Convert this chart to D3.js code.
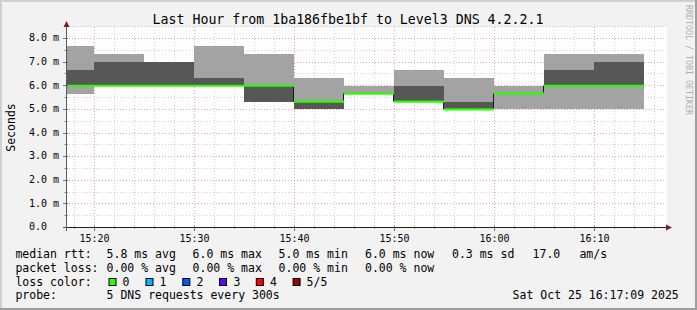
<!DOCTYPE html>
<html><head><meta charset="utf-8">
<script src="https://cdn.jsdelivr.net/npm/d3@7"></script>
<style>
html,body{margin:0;padding:0;background:#f2f2f2;}
svg{display:block;}
text{font-family:"DejaVu Sans Mono",monospace;fill:#000;}
</style>
</head><body>
<svg id="c" width="697" height="310"></svg>
<script>
// ---- data ----
const intervalStart = ["15:15","15:20","15:25","15:30","15:35","15:40","15:45","15:50","15:55","16:00","16:05","16:10"];
const pingMin = [5.67, 6.0, 6.0, 6.0, 5.33, 5.0, 5.67, 5.33, 5.0, 5.0, 5.0, 5.0];
const ping2   = [6.0, 6.0, 6.0, 6.0, 5.33, 5.0, 5.67, 5.33, 5.0, 5.67, 6.0, 6.0];
const median  = [6.0, 6.0, 6.0, 6.0, 6.0, 5.33, 5.67, 5.33, 5.0, 5.67, 6.0, 6.0];
const ping4   = [6.67, 7.0, 7.0, 6.33, 6.0, 5.33, 5.67, 6.0, 5.33, 5.67, 6.67, 7.0];
const pingMax = [7.67, 7.33, 7.0, 7.67, 7.33, 6.33, 6.0, 6.67, 6.33, 6.0, 7.33, 7.33];
const intervalMinutes = 5;
const windowStart = "15:17:12";
const windowEnd = "16:17:12";
const yTickValues = [0,1,2,3,4,5,6,7,8];
const yTickLabels = ["0.0","1.0 m","2.0 m","3.0 m","4.0 m","5.0 m","6.0 m","7.0 m","8.0 m"];
const xTickLabels = ["15:20","15:30","15:40","15:50","16:00","16:10"];
const titleText = "Last Hour from 1ba186fbe1bf to Level3 DNS 4.2.2.1";
const yAxisTitle = "Seconds";
const rttLabel = "median rtt:";
const rttStats = ["5.8 ms avg","6.0 ms max","5.0 ms min","6.0 ms now","0.3 ms sd","17.0","am/s"];
const lossLabel = "packet loss:";
const lossStats = ["0.00 % avg","0.00 % max","0.00 % min","0.00 % now"];
const lossColorLabel = "loss color:";
const lossLabels = ["0","1","2","3","4","5/5"];
const lossColors = ["#26ff00","#00b8ff","#0059ff","#5e00ff","#ff0000","#a00000"];
const probeLabel = "probe:";
const probeText = "5 DNS requests every 300s";
const dateText = "Sat Oct 25 16:17:09 2025";
const watermark = "RRDTOOL / TOBI OETIKER";

// ---- setup ----
const svg = d3.select("#c");
const W = 697, H = 310;
const parseT = d3.timeParse("%Y-%m-%d %H:%M:%S");
const day = "2025-10-25 ";
const tOf = s => parseT(day + (s.length === 5 ? s + ":00" : s));

const plot = {left: 66, right: 666, top: 27, bottom: 228};
const x = d3.scaleTime().domain([tOf(windowStart), tOf(windowEnd)]).range([plot.left, plot.right]);
const y = d3.scaleLinear().domain([0, 8]).range([227.5, 38.5]);

// background & 3D frame
svg.append("rect").attr("width", W).attr("height", H).attr("fill", "#f2f2f2");
svg.append("rect").attr("x",0).attr("y",0).attr("width",W).attr("height",2).attr("fill","#cfcfcf");
svg.append("rect").attr("x",0).attr("y",0).attr("width",2).attr("height",H).attr("fill","#cfcfcf");
svg.append("rect").attr("x",0).attr("y",H-2).attr("width",W).attr("height",2).attr("fill","#9e9e9e");
svg.append("rect").attr("x",W-2).attr("y",0).attr("width",2).attr("height",H).attr("fill","#9e9e9e");

// canvas
svg.append("rect").attr("x", plot.left).attr("y", plot.top)
  .attr("width", plot.right - plot.left + 1).attr("height", plot.bottom - plot.top).attr("fill", "#fff");

svg.append("defs").append("clipPath").attr("id","clip")
  .append("rect").attr("x", plot.left).attr("y", plot.top)
  .attr("width", plot.right - plot.left).attr("height", plot.bottom - plot.top);

// grid
const gGrid = svg.append("g");
const minorX = d3.timeMinute.every(2).range(tOf(windowStart), tOf(windowEnd));
const majorX = xTickLabels.map(tOf);
const isMajorX = t => majorX.some(m => +m === +t);
minorX.filter(t => !isMajorX(t)).forEach(t => {
  gGrid.append("line").attr("x1", Math.round(x(t)) + 0.5).attr("x2", Math.round(x(t)) + 0.5)
    .attr("y1", plot.top).attr("y2", plot.bottom)
    .attr("stroke", "#8f8f8f").attr("stroke-opacity", 0.4).attr("stroke-dasharray", "1,2");
});
d3.range(0.5, 8.6, 1).forEach(v => {
  gGrid.append("line").attr("x1", plot.left).attr("x2", plot.right)
    .attr("y1", Math.floor(y(v)) + 0.5).attr("y2", Math.floor(y(v)) + 0.5)
    .attr("stroke", "#8f8f8f").attr("stroke-opacity", 0.4).attr("stroke-dasharray", "1,2");
});
majorX.forEach(t => {
  gGrid.append("line").attr("x1", Math.round(x(t)) + 0.5).attr("x2", Math.round(x(t)) + 0.5)
    .attr("y1", plot.top).attr("y2", plot.bottom)
    .attr("stroke", "#de4f4f").attr("stroke-opacity", 0.5).attr("stroke-dasharray", "1,2");
});
yTickValues.filter(v => v > 0).forEach(v => {
  gGrid.append("line").attr("x1", plot.left).attr("x2", plot.right)
    .attr("y1", Math.floor(y(v)) + 0.5).attr("y2", Math.floor(y(v)) + 0.5)
    .attr("stroke", "#de4f4f").attr("stroke-opacity", 0.5).attr("stroke-dasharray", "1,2");
});

// smoke + median
const rows = intervalStart.map((s, i) => ({
  t0: tOf(s), t1: d3.timeMinute.offset(tOf(s), intervalMinutes),
  p1: pingMin[i], p2: ping2[i], med: median[i], p4: ping4[i], p5: pingMax[i]
}));
const gData = svg.append("g").attr("clip-path", "url(#clip)");
gData.selectAll("rect.light").data(rows).join("rect").attr("class","light")
  .attr("x", d => x(d.t0)).attr("width", d => x(d.t1) - x(d.t0))
  .attr("y", d => y(d.p5)).attr("height", d => y(d.p1) - y(d.p5))
  .attr("fill", "#a3a3a3").attr("shape-rendering","crispEdges");
gData.selectAll("rect.dark").data(rows).join("rect").attr("class","dark")
  .attr("x", d => x(d.t0)).attr("width", d => x(d.t1) - x(d.t0))
  .attr("y", d => y(d.p4)).attr("height", d => y(d.p2) - y(d.p4))
  .attr("fill", "#575757").attr("shape-rendering","crispEdges");
// vertical connectors of median step
rows.forEach((d, i) => {
  if (i > 0 && rows[i-1].med !== d.med) {
    gData.append("line").attr("x1", x(d.t0) - 0.5).attr("x2", x(d.t0) - 0.5)
      .attr("y1", y(rows[i-1].med)).attr("y2", y(d.med))
      .attr("stroke", "#1a1a1a").attr("stroke-width", 1);
  }
});
gData.selectAll("line.med").data(rows).join("line").attr("class","med")
  .attr("x1", d => x(d.t0)).attr("x2", d => x(d.t1))
  .attr("y1", d => y(d.med)).attr("y2", d => y(d.med))
  .attr("stroke", lossColors[0]).attr("stroke-width", 2.2);

// axes
const gAx = svg.append("g");
gAx.append("line").attr("x1", 63).attr("x2", 668).attr("y1", 227.5).attr("y2", 227.5)
  .attr("stroke", "#1f1f1f");
gAx.append("line").attr("x1", 66.5).attr("x2", 66.5).attr("y1", 231).attr("y2", 24)
  .attr("stroke", "#5a5a5a");
// x ticks
minorX.forEach(t => {
  const xx = Math.round(x(t)) + 0.5;
  gAx.append("line").attr("x1", xx).attr("x2", xx).attr("y1", 226).attr("y2", isMajorX(t) ? 231 : 229)
    .attr("stroke", "#555").attr("stroke-opacity", isMajorX(t) ? 0.8 : 0.5);
});
// y ticks
d3.range(0, 8.6, 0.5).forEach(v => {
  const yy = Math.floor(y(v)) + 0.5;
  const major = Number.isInteger(v);
  gAx.append("line").attr("x1", major ? 63 : 64).attr("x2", 68).attr("y1", yy).attr("y2", yy)
    .attr("stroke", "#555").attr("stroke-opacity", major ? 0.8 : 0.5);
});
// arrows
gAx.append("path").attr("d", d3.line()([[63.5,27],[69.5,27],[66.5,21]]) + "Z").attr("fill", "#801f1f");
gAx.append("path").attr("d", d3.line()([[666,224.5],[666,230.5],[672,227.5]]) + "Z").attr("fill", "#801f1f");

// tick labels
const gLab = svg.append("g").style("font-size", "10px");
yTickValues.forEach((v, i) => {
  gLab.append("text").attr("x", 29).attr("y", y(v) + 2.8).text(yTickLabels[i]).attr("xml:space","preserve");
});
majorX.forEach((t, i) => {
  gLab.append("text").attr("x", Math.round(x(t)) + 0.5).attr("y", 242).attr("text-anchor", "middle").text(xTickLabels[i]);
});

// title
svg.append("text").attr("x", 348).attr("y", 24).attr("text-anchor", "middle")
  .style("font-size", "13.25px").text(titleText);
// y title
svg.append("text").attr("transform", "translate(15,127.5) rotate(-90)").attr("text-anchor", "middle")
  .style("font-size", "11.5px").text(yAxisTitle);
// watermark
svg.append("text").attr("transform", "translate(685.5,60) rotate(90)").attr("text-anchor", "middle")
  .style("font-size", "8.3px").style("fill", "#b0b0b0").text(watermark);

// legend
const gLeg = svg.append("g").style("font-size", "11.5px");
const colX = [106.6, 192.6, 278.6, 365];
const L1 = 258.3, L2 = 271.8, L3 = 285.6, L4 = 299.2;
gLeg.append("text").attr("x", 15.4).attr("y", L1).text(rttLabel);
const rttX = [106.6, 192.6, 278.6, 365, 452, 532.6, 579.4];
rttStats.forEach((s, i) => gLeg.append("text").attr("x", rttX[i]).attr("y", L1).text(s));
gLeg.append("text").attr("x", 15.4).attr("y", L2).text(lossLabel);
lossStats.forEach((s, i) => gLeg.append("text").attr("x", colX[i]).attr("y", L2).text(s));
gLeg.append("text").attr("x", 15.4).attr("y", L3).text(lossColorLabel);
const boxX = [108.5, 145.5, 182.3, 219, 255.8, 292.6];
const boxLabX = [122.6, 159.4, 196.6, 233.4, 270, 306.6];
lossLabels.forEach((s, i) => {
  gLeg.append("rect").attr("x", boxX[i] + 0.5).attr("y", 278.5).attr("width", 7).attr("height", 7)
    .attr("fill", lossColors[i]).attr("stroke", "#000").attr("stroke-width", 1);
  gLeg.append("text").attr("x", boxLabX[i]).attr("y", L3).text(s);
});
gLeg.append("text").attr("x", 15.4).attr("y", L4).text(probeLabel);
gLeg.append("text").attr("x", 106.6).attr("y", L4).text(probeText);
gLeg.append("text").attr("x", 512.6).attr("y", L4).text(dateText);
</script>
</body></html>
